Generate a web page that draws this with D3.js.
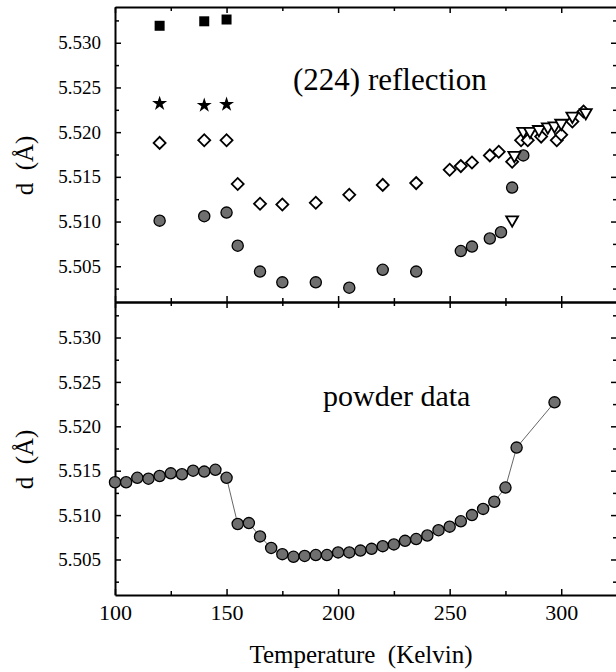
<!DOCTYPE html>
<html>
<head>
<meta charset="utf-8">
<script src="https://cdn.jsdelivr.net/npm/d3@7"></script>
<style>
  body { margin: 0; background: #fff; }
  svg { display: block; font-family: "Liberation Serif", "Times New Roman", serif; }
  .axis path, .axis line { stroke: #000; }
  .axis path { stroke-width: 2; }
  .axis line { stroke-width: 1.5; }
</style>
</head>
<body>
<div id="chart"></div>
<script>
// ---- data ----
const xMajorTicks = [100, 150, 200, 250, 300];
const xMinorTicks = [125, 175, 225, 275];
const yMajorTicks = [5.505, 5.510, 5.515, 5.520, 5.525, 5.530];
const yMinorTicks = [5.5025, 5.5075, 5.5125, 5.5175, 5.5225, 5.5275, 5.5325];

// (224) reflection
const squareT = [120, 140, 150];
const squareD = [5.5319, 5.5324, 5.5326];

const starT = [120, 140, 150];
const starD = [5.5232, 5.5230, 5.5231];

const diamondT = [120, 140, 150, 155, 165, 175, 190, 205, 220, 235, 250, 255, 260, 268, 272, 278, 282, 285, 291, 298, 300, 305, 310];
const diamondD = [5.5188, 5.5191, 5.5191, 5.5142, 5.5120, 5.5119, 5.5121, 5.5130, 5.5141, 5.5143, 5.5158, 5.5162, 5.5166, 5.5174, 5.5178, 5.5167, 5.5191, 5.5191, 5.5195, 5.5191, 5.5197, 5.5212, 5.5223];

const circleT = [120, 140, 150, 155, 165, 175, 190, 205, 220, 235, 255, 260, 268, 273, 278, 283];
const circleD = [5.5101, 5.5106, 5.5110, 5.5073, 5.5044, 5.5032, 5.5032, 5.5026, 5.5046, 5.5044, 5.5067, 5.5072, 5.5081, 5.5088, 5.5138, 5.5174];

const triangleT = [278, 279, 283, 286, 290, 294, 297, 300, 305, 311];
const triangleD = [5.5102, 5.5174, 5.5201, 5.5201, 5.5203, 5.5206, 5.5207, 5.5210, 5.5218, 5.5222];

// powder data
const powderT = [100, 105, 110, 115, 120, 125, 130, 135, 140, 145, 150, 155, 160, 165, 170, 175, 180, 185, 190, 195, 200,
                 205, 210, 215, 220, 225, 230, 235, 240, 245, 250, 255, 260, 265, 270, 275, 280, 297];
const powderD = [5.5137, 5.5137, 5.5142, 5.5141, 5.5144, 5.5147, 5.5146, 5.5150, 5.5149, 5.5151, 5.5142, 5.5090, 5.5091, 5.5076, 5.5063, 5.5056, 5.5053, 5.5054, 5.5055, 5.5055, 5.5058,
                 5.5058, 5.5060, 5.5062, 5.5065, 5.5067, 5.5071, 5.5073, 5.5077, 5.5083, 5.5087, 5.5093, 5.5100, 5.5107, 5.5115, 5.5131, 5.5176, 5.5227];

const WIDTH = 616, HEIGHT = 672;
const LEFT = 115, RIGHT = 617;
const TOP_PANEL = [7, 302];
const BOTTOM_PANEL = [302, 595];
const Y_DOMAIN = [5.5010, 5.5340];
const GRAY = '#6f6f6f';

const zip = (a, b) => a.map((v, i) => ({ t: v, d: b[i] }));

const svg = d3.select('#chart').append('svg')
    .attr('width', WIDTH)
    .attr('height', HEIGHT);
svg.append('rect').attr('width', WIDTH).attr('height', HEIGHT).attr('fill', '#fff');

const xScale = d3.scaleLinear().domain([100, 325]).range([LEFT, RIGHT]);

function drawFrame(panel, showXLabels) {
    const yScale = d3.scaleLinear().domain(Y_DOMAIN).range([panel[1], panel[0]]);

    // bottom axis, ticks pointing up
    const bottom = svg.append('g').attr('class', 'axis')
        .attr('transform', `translate(0, ${panel[1]})`)
        .call(d3.axisBottom(xScale).tickValues(xMajorTicks).tickSizeInner(-6).tickSizeOuter(0)
            .tickFormat(showXLabels ? d3.format('d') : ''));
    bottom.selectAll('text')
        .attr('y', 9).attr('dy', '0.71em')
        .attr('font-size', 22).attr('font-family', 'Liberation Serif').attr('fill', '#000');
    svg.append('g').attr('class', 'axis')
        .attr('transform', `translate(0, ${panel[1]})`)
        .call(d3.axisBottom(xScale).tickValues(xMinorTicks).tickSizeInner(-4).tickSizeOuter(0).tickFormat(''))
        .select('.domain').remove();

    // top axis, ticks pointing down
    svg.append('g').attr('class', 'axis')
        .attr('transform', `translate(0, ${panel[0]})`)
        .call(d3.axisTop(xScale).tickValues(xMajorTicks).tickSizeInner(-6).tickSizeOuter(0).tickFormat(''));
    svg.append('g').attr('class', 'axis')
        .attr('transform', `translate(0, ${panel[0]})`)
        .call(d3.axisTop(xScale).tickValues(xMinorTicks).tickSizeInner(-4).tickSizeOuter(0).tickFormat(''))
        .select('.domain').remove();

    // left axis
    const left = svg.append('g').attr('class', 'axis')
        .attr('transform', `translate(${LEFT}, 0)`)
        .call(d3.axisLeft(yScale).tickValues(yMajorTicks).tickSizeInner(-6).tickSizeOuter(0).tickFormat(d3.format('.3f')));
    left.selectAll('text')
        .attr('x', -14)
        .attr('font-size', 19).attr('font-family', 'Liberation Serif').attr('fill', '#000');
    svg.append('g').attr('class', 'axis')
        .attr('transform', `translate(${LEFT}, 0)`)
        .call(d3.axisLeft(yScale).tickValues(yMinorTicks).tickSizeInner(-4).tickSizeOuter(0).tickFormat(''))
        .select('.domain').remove();

    // right axis
    svg.append('g').attr('class', 'axis')
        .attr('transform', `translate(${RIGHT}, 0)`)
        .call(d3.axisRight(yScale).tickValues(yMajorTicks).tickSizeInner(-6).tickSizeOuter(0).tickFormat(''));
    svg.append('g').attr('class', 'axis')
        .attr('transform', `translate(${RIGHT}, 0)`)
        .call(d3.axisRight(yScale).tickValues(yMinorTicks).tickSizeInner(-4).tickSizeOuter(0).tickFormat(''))
        .select('.domain').remove();

    // y title
    const cy = (panel[0] + panel[1]) / 2 + 11;
    svg.append('text')
        .attr('transform', `translate(33, ${cy}) rotate(-90)`)
        .attr('text-anchor', 'middle')
        .attr('font-size', 25)
        .style('white-space', 'pre')
        .text('d  (Å)');

    return yScale;
}

// ---- top panel: (224) reflection ----
const yTop = drawFrame(TOP_PANEL, false);
const topMarks = svg.append('g');

topMarks.selectAll('circle.refl').data(zip(circleT, circleD)).enter().append('circle')
    .attr('class', 'refl')
    .attr('cx', p => xScale(p.t))
    .attr('cy', p => yTop(p.d))
    .attr('r', 5.6)
    .attr('fill', GRAY)
    .attr('stroke', '#000')
    .attr('stroke-width', 1.3);

const diamond = d3.symbol().type(d3.symbolSquare).size(72);
topMarks.selectAll('path.diamond').data(zip(diamondT, diamondD)).enter().append('path')
    .attr('class', 'diamond')
    .attr('d', diamond)
    .attr('transform', p => `translate(${xScale(p.t)}, ${yTop(p.d)}) rotate(45)`)
    .attr('fill', '#fff')
    .attr('stroke', '#000')
    .attr('stroke-width', 1.8);

const triangle = d3.symbol().type(d3.symbolTriangle).size(62);
topMarks.selectAll('path.tri').data(zip(triangleT, triangleD)).enter().append('path')
    .attr('class', 'tri')
    .attr('d', triangle)
    .attr('transform', p => `translate(${xScale(p.t)}, ${yTop(p.d)}) rotate(180)`)
    .attr('fill', '#fff')
    .attr('stroke', '#000')
    .attr('stroke-width', 1.8);

const star = d3.symbol().type(d3.symbolStar).size(70);
topMarks.selectAll('path.star').data(zip(starT, starD)).enter().append('path')
    .attr('class', 'star')
    .attr('d', star)
    .attr('transform', p => `translate(${xScale(p.t)}, ${yTop(p.d)})`)
    .attr('fill', '#000');

const square = d3.symbol().type(d3.symbolSquare).size(100);
topMarks.selectAll('path.square').data(zip(squareT, squareD)).enter().append('path')
    .attr('class', 'square')
    .attr('d', square)
    .attr('transform', p => `translate(${xScale(p.t)}, ${yTop(p.d)})`)
    .attr('fill', '#000');

svg.append('text')
    .attr('x', 293).attr('y', 90)
    .attr('font-size', 31)
    .text('(224) reflection');

// ---- bottom panel: powder data ----
const yBottom = drawFrame(BOTTOM_PANEL, true);
const powder = zip(powderT, powderD);

const line = d3.line()
    .x(p => xScale(p.t))
    .y(p => yBottom(p.d));

svg.append('path')
    .datum(powder)
    .attr('fill', 'none')
    .attr('stroke', '#555')
    .attr('stroke-width', 0.9)
    .attr('d', line);

svg.append('g').selectAll('circle').data(powder).enter().append('circle')
    .attr('cx', p => xScale(p.t))
    .attr('cy', p => yBottom(p.d))
    .attr('r', 5.6)
    .attr('fill', GRAY)
    .attr('stroke', '#000')
    .attr('stroke-width', 1.3);

svg.append('text')
    .attr('x', 323).attr('y', 406)
    .attr('font-size', 30)
    .text('powder data');

// x title
svg.append('text')
    .attr('x', 361).attr('y', 663)
    .attr('text-anchor', 'middle')
    .attr('font-size', 25)
    .style('white-space', 'pre')
    .text('Temperature  (Kelvin)');
</script>
</body>
</html>
